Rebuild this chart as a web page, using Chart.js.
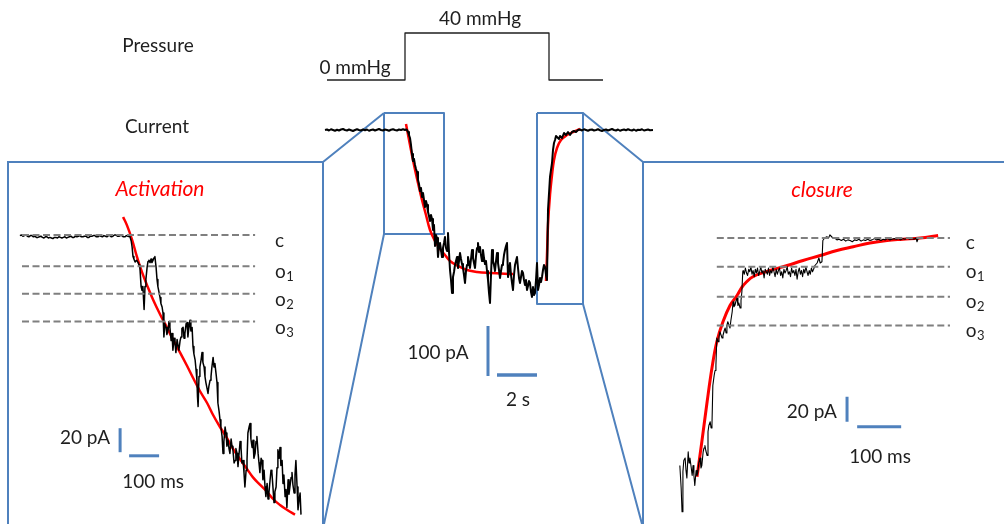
<!DOCTYPE html>
<html>
<head>
<meta charset="utf-8">
<script src="https://cdn.jsdelivr.net/npm/chart.js@4.4.1/dist/chart.umd.min.js"></script>
<style>
  html, body { margin: 0; padding: 0; background: #fff; }
  #wrap { position: relative; width: 1004px; height: 524px; }
</style>
</head>
<body>
<div id="wrap"><canvas id="fig"></canvas></div>
<script>
// ---- data ----

// pressure step protocol (s, mmHg)
const pressureTrace = [[-3.9, 0], [0, 0], [0, 40], [7.2, 40], [7.2, 0], [9.9, 0]];

// whole patch current (s, pA)
const currentTrace = [
  [-4.0, 0], [-3.9, 1], [-3.8, -1], [-3.7, 1.5], [-3.6, 0], [-3.5, -1.5], [-3.4, 0.5], [-3.3, -1],
  [-3.2, 1], [-3.1, 2], [-3.0, 0], [-2.9, -1], [-2.8, 1], [-2.7, -0.5], [-2.6, -2], [-2.5, 0],
  [-2.4, 1.5], [-2.3, 0], [-2.2, -1], [-2.1, 1], [-2.0, -0.5], [-1.9, 1], [-1.8, -1.5], [-1.7, 0],
  [-1.6, 1], [-1.5, -1], [-1.4, 0.5], [-1.3, 2], [-1.2, 0], [-1.1, -1], [-1.0, 1], [-0.9, 0],
  [-0.8, -1.5], [-0.7, 0.5], [-0.6, 1.5], [-0.5, 0], [-0.4, -1], [-0.3, 1], [-0.2, 0], [-0.1, 1.5],
  [0.0, 0], [0.05, 1], [0.10, 0], [0.15, -4], [0.20, -10], [0.25, -16], [0.30, -30], [0.35, -48],
  [0.40, -62], [0.45, -58], [0.50, -70], [0.55, -78], [0.60, -84], [0.65, -100], [0.70, -108],
  [0.75, -122], [0.80, -116], [0.85, -134], [0.90, -126], [0.95, -140], [1.00, -154], [1.05, -142],
  [1.10, -150], [1.15, -164], [1.20, -172], [1.25, -182], [1.30, -170], [1.35, -178], [1.40, -200],
  [1.45, -190], [1.50, -232], [1.55, -210], [1.60, -216], [1.65, -254], [1.70, -232], [1.75, -226],
  [1.80, -240], [1.85, -254], [1.90, -236], [1.95, -226], [2.00, -214], [2.05, -236], [2.10, -242],
  [2.15, -206], [2.20, -244], [2.25, -280], [2.30, -300], [2.35, -326], [2.40, -294], [2.45, -284],
  [2.50, -270], [2.55, -262], [2.60, -254], [2.65, -276], [2.70, -262], [2.75, -246], [2.80, -258],
  [2.85, -268], [2.90, -276], [2.95, -290], [3.00, -306], [3.05, -282], [3.10, -270], [3.15, -254],
  [3.20, -266], [3.25, -276], [3.30, -258], [3.35, -240], [3.40, -256], [3.45, -266], [3.50, -276],
  [3.55, -252], [3.60, -236], [3.65, -226], [3.70, -244], [3.75, -234], [3.80, -250], [3.85, -262],
  [3.90, -240], [3.95, -256], [4.00, -268], [4.05, -262], [4.10, -282], [4.15, -300], [4.20, -326],
  [4.25, -346], [4.30, -290], [4.35, -240], [4.40, -262], [4.45, -270], [4.50, -282], [4.55, -262],
  [4.60, -246], [4.65, -266], [4.70, -280], [4.75, -296], [4.80, -282], [4.85, -270], [4.90, -266],
  [4.95, -250], [5.00, -240], [5.05, -232], [5.10, -226], [5.15, -294], [5.20, -280], [5.25, -266],
  [5.30, -290], [5.35, -306], [5.40, -320], [5.45, -290], [5.50, -270], [5.55, -262], [5.60, -254],
  [5.65, -276], [5.70, -296], [5.75, -306], [5.80, -294], [5.85, -282], [5.90, -286], [5.95, -300],
  [6.00, -310], [6.05, -300], [6.10, -320], [6.15, -312], [6.20, -302], [6.25, -306], [6.30, -324],
  [6.35, -334], [6.40, -314], [6.45, -330], [6.50, -326], [6.55, -300], [6.60, -266], [6.65, -320],
  [6.70, -310], [6.75, -296], [6.80, -304], [6.85, -294], [6.90, -280], [6.95, -270], [7.00, -274],
  [7.05, -290], [7.10, -300], [7.15, -160], [7.25, -94], [7.35, -66], [7.40, -40], [7.45, -26],
  [7.50, -20], [7.55, -12], [7.60, -14], [7.70, -18], [7.75, -12], [7.85, -16], [7.95, -6],
  [8.05, -10], [8.15, -4], [8.25, -10], [8.35, -4], [8.45, -2], [8.55, -4], [8.65, 0], [8.75, 1],
  [8.85, -1], [8.95, 1.5], [9.05, 0], [9.15, -1.5], [9.25, 0.5], [9.35, 1], [9.45, -1], [9.55, 0],
  [9.65, 1.5], [9.75, -0.5], [9.85, -2], [9.95, 0], [10.05, 1], [10.15, -1], [10.25, 0.5],
  [10.35, 2], [10.45, 0], [10.55, -1], [10.65, 1], [10.75, -1.5], [10.85, 0], [10.95, 1],
  [11.05, -0.5], [11.15, 1.5], [11.25, 0], [11.35, -1], [11.45, 1], [11.55, -1.5], [11.65, 0.5],
  [11.75, 0], [11.85, 1.5], [11.95, -1], [12.05, 0], [12.15, 1], [12.25, -0.5], [12.4, 0]
];
const activationFitWhole = [
  [0.05, 12], [0.25, -30], [0.45, -70], [0.65, -106], [0.85, -140], [1.05, -170], [1.25, -200],
  [1.5, -222], [1.75, -238], [2.0, -250], [2.25, -262], [2.65, -272], [3.1, -280], [3.6, -284],
  [4.25, -286], [5.4, -288]
];
const closureFitWhole = [
  [7.05, -302], [7.1, -250], [7.15, -190], [7.25, -130], [7.35, -90], [7.45, -60], [7.6, -36],
  [7.8, -20], [8.1, -10], [8.4, -4], [8.75, 2]
];
// zoomed windows: [t start, t end, pA low, pA high]
const activationWindow = [-1.05, 1.95, -208, 34];
const closureWindow = [6.6, 8.9, -348, 34];

// activation, expanded (ms, pA)
const activationTrace = [
  [-367, -0.5], [-362, 0], [-357, -1], [-352, -0.5], [-347, 0], [-342, -1], [-337, -1.5], [-332, -0.5],
  [-327, -0.5], [-322, -1.5], [-317, -1], [-312, -2], [-307, -2], [-302, -1.5], [-297, -1], [-292, -2],
  [-287, -2.5], [-282, -1.5], [-277, -1.5], [-272, -2.5], [-267, -2], [-262, -2.5], [-257, -3],
  [-252, -2], [-247, -2], [-242, -2.5], [-237, -1.5], [-232, -2], [-227, -2.5], [-222, -2],
  [-217, -1.5], [-212, -2.5], [-207, -2], [-202, -1.5], [-197, -1], [-192, -2], [-187, -2],
  [-182, -1], [-177, -1.5], [-172, -1], [-167, -0.5], [-162, -1.5], [-157, -1.5], [-152, -1],
  [-147, -1], [-142, -2], [-137, -2], [-132, -1], [-127, -1], [-122, -0.5], [-117, -0.5],
  [-112, -1.5], [-107, -1.5], [-102, -0.5], [-97, -1], [-92, -1.5], [-87, -0.5], [-82, -1],
  [-77, -1.5], [-72, -0.5], [-67, -0.5], [-62, -1.5], [-57, -1], [-52, 0], [-47, 0], [-42, -1],
  [-37, -1], [-32, -0.5], [-27, -0.5], [-22, -1.5], [-17, -1.5], [-12, -0.5], [-7, -1], [0, -1.5],
  [4, -5], [7, -10], [10, -18], [13, -20], [17, -22.5], [22, -21], [27, -23], [30, -25], [33, -27],
  [37, -43], [40, -46], [43, -43], [47, -62], [50, -43], [53, -37], [57, -27], [60, -22], [63, -21],
  [67, -23], [70, -20], [73, -23], [77, -21], [80, -19], [83, -18], [87, -27], [90, -37], [93, -43],
  [97, -48], [100, -52], [103, -57], [107, -60], [110, -65], [113, -85], [116, -74], [120, -77],
  [123, -83], [127, -79], [130, -72], [133, -77], [137, -88], [140, -82], [143, -96], [147, -86],
  [150, -90], [153, -98], [157, -87], [160, -92], [163, -96], [167, -88], [170, -85], [173, -78],
  [177, -77], [180, -86], [183, -82], [187, -74], [190, -73], [193, -85], [197, -76], [200, -71],
  [203, -80], [207, -77], [210, -93], [213, -99], [217, -104], [220, -112], [223, -121], [225, -135],
  [227, -143], [230, -118], [233, -110], [237, -104], [240, -98], [243, -106], [247, -110],
  [250, -118], [253, -123], [257, -128], [260, -132], [263, -126], [267, -121], [270, -118],
  [273, -110], [277, -102], [280, -110], [283, -107], [287, -116], [290, -123], [293, -140],
  [297, -147], [300, -154], [303, -160], [307, -168], [310, -182], [313, -172], [317, -160],
  [320, -165], [323, -176], [327, -171], [330, -178], [333, -182], [337, -170], [340, -176],
  [343, -179], [347, -190], [350, -188], [353, -178], [357, -182], [360, -193], [363, -184],
  [367, -172], [370, -177], [373, -190], [377, -188], [380, -198], [383, -210], [387, -196],
  [390, -188], [393, -165], [397, -160], [400, -157], [403, -170], [407, -177], [410, -171],
  [413, -186], [417, -182], [420, -172], [423, -168], [427, -182], [430, -190], [433, -198],
  [437, -186], [440, -188], [443, -204], [447, -196], [450, -210], [453, -218], [457, -207],
  [460, -220], [463, -215], [467, -204], [470, -196], [473, -198], [477, -212], [480, -223],
  [483, -214], [487, -210], [490, -194], [493, -179], [497, -186], [500, -177], [503, -192],
  [507, -188], [510, -207], [513, -200], [517, -218], [520, -212], [523, -227], [527, -204],
  [530, -216], [533, -210], [537, -202], [540, -198], [543, -208], [547, -215], [550, -200],
  [553, -188], [557, -210], [560, -229], [563, -222], [567, -215], [570, -233]
];
const activationFit = [
  [-23, 15], [-10, 8], [7, -4], [23, -18], [40, -31], [57, -42], [77, -54], [100, -66], [123, -77],
  [143, -87], [167, -98], [190, -109], [210, -119], [233, -130], [257, -140], [277, -150],
  [300, -160], [323, -169], [343, -178], [367, -187], [390, -195], [410, -202], [433, -208],
  [457, -214], [477, -220], [500, -225], [523, -229], [550, -233]
];

// closure, expanded (ms, pA)
const closureRise = [
  [-39, -182], [-36, -200], [-34, -219], [-32, -187], [-30, -178], [-27, -176], [-25, -186],
  [-23, -192], [-20, -171], [-18, -180], [-16, -176], [-13, -184], [-11, -190], [-9, -182],
  [-7, -190], [-5, -198], [-2, -186], [0, -190], [2, -187], [4, -180], [7, -176], [9, -184],
  [11, -182], [14, -171], [16, -168], [18, -166], [20, -170], [23, -174], [25, -155], [27, -150],
  [30, -147], [32, -152], [34, -150], [36, -118], [39, -110], [41, -106], [43, -102], [45, -80],
  [48, -83], [50, -79], [52, -75], [55, -78], [57, -80], [59, -78], [62, -74], [64, -72], [66, -76],
  [68, -70], [70, -67], [73, -70], [75, -72], [77, -66], [80, -59], [82, -51], [84, -55], [86, -54],
  [89, -50], [91, -48], [93, -54], [95, -52], [98, -56], [100, -50], [102, -43], [104, -27]
];
const closureO1Time = [105, 107.5, 110, 112.5, 115, 117.5, 120, 122.5, 125, 127.5, 130, 132.5, 135,
  137.5, 140, 142.5, 145, 147.5, 150, 152.5, 155, 157.5, 160, 162.5, 165, 167.5, 170, 172.5, 175,
  177.5, 180, 182.5, 185, 187.5, 190, 192.5, 195, 197.5, 200, 202.5, 205, 207.5, 210, 212.5, 215,
  217.5, 220, 222.5, 225, 227.5, 230, 232.5, 235, 237.5, 240, 242.5, 245, 247.5, 250, 252.5, 255,
  257.5, 260, 262.5, 265];
const closureO1Current = [-26, -29, -24, -28, -30, -25, -27, -23, -29, -26,
  -31, -25, -28, -24, -30, -27, -23, -28, -26, -32,
  -25, -27, -29, -24, -30, -26, -28, -23, -27, -31,
  -25, -29, -26, -24, -30, -27, -32, -25, -28, -26,
  -23, -29, -27, -31, -24, -28, -26, -30, -25, -33,
  -27, -24, -29, -26, -31, -25, -28, -23, -27, -30,
  -26, -29, -24, -27, -25];
const closureStep = [[268, -22], [273, -20], [277, -16], [280, -20], [284, -19], [286, -2], [290, 0],
  [295, 1], [299, 0], [302, 2.5], [306, 1], [309, 0]];
const closureCTime = [313, 318, 323, 328, 333, 338, 343, 348, 353, 358, 363, 368, 373, 378, 383,
  388, 393, 398, 403, 408, 413, 418, 423, 428, 433, 438, 443, 448, 453, 458, 463, 468, 473, 478,
  483, 488, 493, 498, 500, 503];
const closureCCurrent = [0, -1.5, -1, -2, -1, -2.5, -1.5, -2, -3, -1.5, -2, -1, -2.5, -1.5, -2,
  -1, -2, -1.5, -0.5, -1.5, -1, -2, -1, -1.5, -0.5, -1.5, -1, -0.5, -1, -0.5, -1.5, -0.5, -1, 0,
  -1, -0.5, -1, 0, -3, 0];
const closureFit = [
  [0, -191], [11, -163], [23, -131], [34, -104], [45, -83], [59, -67], [75, -54], [91, -46],
  [105, -38], [127, -31], [166, -26], [205, -22], [241, -18], [280, -14], [318, -10], [355, -7],
  [393, -4], [432, -2], [468, -1], [507, 0], [548, 2]
];

// channel levels (pA) and names
const levelNames = ['c', 'o1', 'o2', 'o3'];
const activationLevels = [0, -26, -49, -72];
const closureLevels = [0, -23, -47, -70];

// scale bar lengths [time, current]
const wholeBar = [2, 100];
const expandedBar = [100, 20];

// ---- layout (pixels) ----
const W = 1004, H = 524;
const panels = {
  whole: { ox: 405, oy: 130, sx: 20, sy: 0.5 },
  pres: { ox: 405, oy: 80, sx: 20, sy: 1.175 },
  act: { ox: 130, oy: 235, sx: 0.3, sy: 1.2 },
  clo: { ox: 697, oy: 238, sx: 0.44, sy: 1.25 }
};
const leftFrame = { x0: 8, x1: 323, y0: 162 };
const rightFrame = { x0: 643, y0: 162 };
const BLUE = '#4F81BD';
const INK = '#1f1f1f';
const FONT = 'Lato, "Open Sans", sans-serif';

function buildScales() {
  const scales = {};
  Object.keys(panels).forEach(k => {
    const p = panels[k];
    scales[k + 'X'] = { type: 'linear', display: false, min: -p.ox / p.sx, max: (W - p.ox) / p.sx };
    scales[k + 'Y'] = { type: 'linear', display: false, min: -(H - p.oy) / p.sy, max: p.oy / p.sy };
  });
  return scales;
}

function series(points, panel, color, width, extra) {
  return Object.assign({
    data: points.map(p => ({ x: p[0], y: p[1] })),
    xAxisID: panel + 'X', yAxisID: panel + 'Y',
    borderColor: color, borderWidth: width,
    pointRadius: 0, fill: false, tension: 0,
    borderJoinStyle: 'round'
  }, extra || {});
}

function zip(xs, ys) { return xs.map((x, i) => [x, ys[i]]); }

function box(w) {
  return [[w[0], w[3]], [w[1], w[3]], [w[1], w[2]], [w[0], w[2]], [w[0], w[3]]];
}

const closureTrace = closureRise
  .concat(zip(closureO1Time, closureO1Current))
  .concat(closureStep)
  .concat(zip(closureCTime, closureCCurrent));

// scale bar anchors in each panel's units: [vertical bar t, its bottom pA, horizontal bar start t, its pA]
const wholeBarAt = [4.15, -492, 4.6, -490];
const actBarAt = [-33, -181, -3, -184];
const cloBarAt = [341, -147, 364, -151];

function scaleBar(at, len, panel, w) {
  return [
    series([[at[0], at[1]], [at[0], at[1] + len[1]]], panel, BLUE, 3, { borderCapStyle: 'butt' }),
    series([[at[2], at[3]], [at[2] + len[0], at[3]]], panel, BLUE, w, { borderCapStyle: 'butt' })
  ];
}

const datasets = [];
// level dashes
activationLevels.forEach(v => datasets.push(series([[-360, v], [417, v]], 'act', '#7f7f7f', 2, { borderDash: [7, 3.5] })));
closureLevels.forEach(v => datasets.push(series([[45, v], [575, v]], 'clo', '#7f7f7f', 2, { borderDash: [7, 3.5] })));
// traces
datasets.push(series(pressureTrace, 'pres', INK, 1.3));
datasets.push(series(currentTrace, 'whole', '#000', 2));
datasets.push(series(activationFitWhole, 'whole', '#ff0000', 2.5, { tension: 0.4 }));
datasets.push(series(closureFitWhole, 'whole', '#ff0000', 2.5, { tension: 0.4 }));
datasets.push(series(box(activationWindow), 'whole', BLUE, 2));
datasets.push(series(box(closureWindow), 'whole', BLUE, 2));
datasets.push(series(activationTrace, 'act', '#000', 1.5));
datasets.push(series(activationFit, 'act', '#ff0000', 2.5, { tension: 0.4 }));
datasets.push(series(closureTrace, 'clo', '#000', 1.1));
datasets.push(series(closureFit, 'clo', '#ff0000', 3, { tension: 0.4 }));
// scale bars
scaleBar(wholeBarAt, wholeBar, 'whole', 3.5).forEach(d => datasets.push(d));
scaleBar(actBarAt, expandedBar, 'act', 3).forEach(d => datasets.push(d));
scaleBar(cloBarAt, expandedBar, 'clo', 3).forEach(d => datasets.push(d));

// frames, connectors and text
const figurePlugin = {
  id: 'figure',
  beforeDatasetsDraw(chart) {
    const ctx = chart.ctx, s = chart.scales;
    const px = (k, t) => s[k + 'X'].getPixelForValue(t);
    const py = (k, v) => s[k + 'Y'].getPixelForValue(v);
    ctx.save();
    ctx.strokeStyle = BLUE;
    ctx.lineWidth = 2;
    ctx.beginPath();
    // left panel frame
    ctx.moveTo(leftFrame.x0, H + 5);
    ctx.lineTo(leftFrame.x0, leftFrame.y0);
    ctx.lineTo(leftFrame.x1, leftFrame.y0);
    ctx.lineTo(leftFrame.x1, H + 5);
    // right panel frame
    ctx.moveTo(rightFrame.x0, H + 5);
    ctx.lineTo(rightFrame.x0, rightFrame.y0);
    ctx.lineTo(W + 5, rightFrame.y0);
    // connectors from the zoom boxes
    ctx.moveTo(px('whole', activationWindow[0]), py('whole', activationWindow[3]));
    ctx.lineTo(leftFrame.x1, leftFrame.y0);
    ctx.moveTo(px('whole', activationWindow[0]), py('whole', activationWindow[2]));
    ctx.lineTo(leftFrame.x1 + 1, H);
    ctx.moveTo(px('whole', closureWindow[1]), py('whole', closureWindow[3]));
    ctx.lineTo(rightFrame.x0, rightFrame.y0);
    ctx.moveTo(px('whole', closureWindow[1]), py('whole', closureWindow[2]));
    ctx.lineTo(rightFrame.x0 - 1, H);
    ctx.stroke();
    ctx.restore();
  },
  afterDatasetsDraw(chart) {
    const ctx = chart.ctx, s = chart.scales;
    const px = (k, t) => s[k + 'X'].getPixelForValue(t);
    const py = (k, v) => s[k + 'Y'].getPixelForValue(v);
    ctx.save();
    ctx.textAlign = 'center';
    ctx.textBaseline = 'middle';
    const txt = (str, x, y, font, color) => {
      ctx.font = font;
      ctx.fillStyle = color || INK;
      ctx.fillText(str, x, y);
    };
    const body = '19px ' + FONT;
    txt('Pressure', 158, 46, body);
    txt('Current', 157, 127, body);
    txt('40 mmHg', px('pres', 3.75), py('pres', 52), body);
    txt('0 mmHg', px('pres', -2.5), py('pres', 10), body);
    txt('100 pA', px('whole', 1.65), py('whole', -446), body);
    txt('2 s', px('whole', 5.65), py('whole', -540), body);
    txt('20 pA', px('act', -150), py('act', -169), body);
    txt('100 ms', px('act', 77), py('act', -206), body);
    txt('20 pA', px('clo', 261), py('clo', -139), body);
    txt('100 ms', px('clo', 416), py('clo', -175), body);
    txt('Activation', px('act', 100), py('act', 38), 'italic 21px ' + FONT, '#ff0000');
    txt('closure', px('clo', 284), py('clo', 38), 'italic 21px ' + FONT, '#ff0000');
    // level labels with subscripts
    const levelLabel = (name, x, y) => {
      ctx.textAlign = 'left';
      ctx.font = '19px ' + FONT;
      ctx.fillStyle = INK;
      ctx.fillText(name[0], x, y);
      if (name.length > 1) {
        const w = ctx.measureText(name[0]).width;
        ctx.font = '13px ' + FONT;
        ctx.fillText(name.slice(1), x + w + 0.5, y + 5);
      }
    };
    levelNames.forEach((n, i) => {
      levelLabel(n, px('act', 483), py('act', activationLevels[i]) + 6);
      levelLabel(n, px('clo', 611), py('clo', closureLevels[i]) + 5);
    });
    ctx.restore();
  }
};

new Chart(document.getElementById('fig'), {
  type: 'line',
  data: { datasets: datasets },
  options: {
    responsive: true,
    maintainAspectRatio: false,
    animation: false,
    devicePixelRatio: 1,
    layout: { padding: 0 },
    plugins: { legend: { display: false }, title: { display: false }, tooltip: { enabled: false } },
    scales: buildScales()
  },
  plugins: [figurePlugin]
});
</script>
</body>
</html>
